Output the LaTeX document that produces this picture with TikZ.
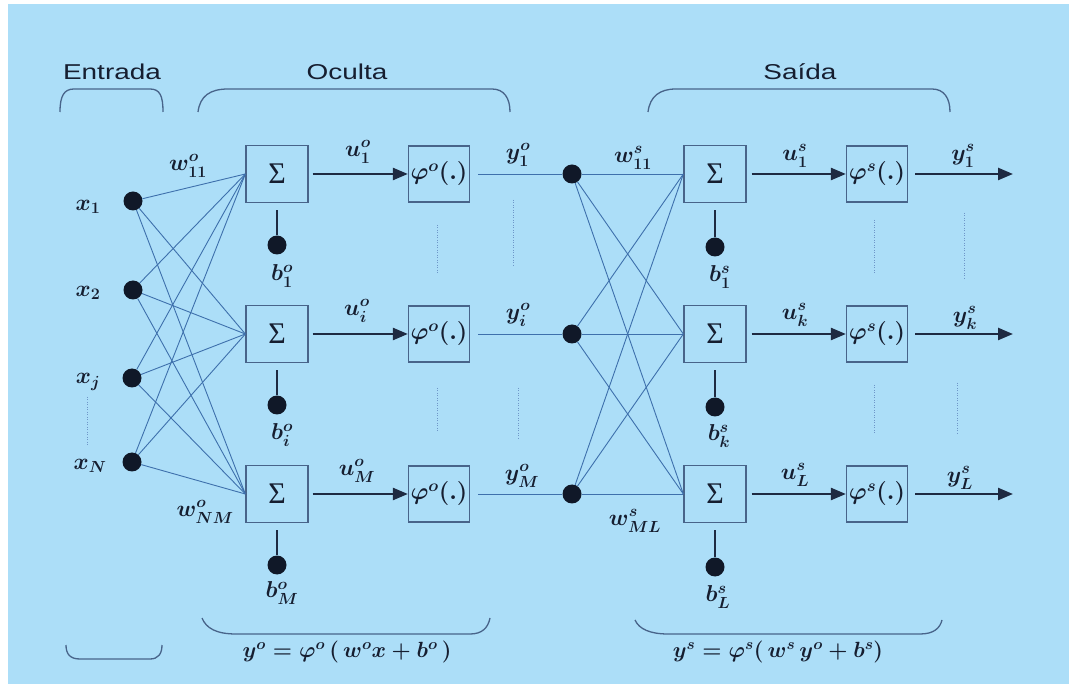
\RequirePackage{fix-cm}
\documentclass[tikz,border=0pt]{standalone}
\usepackage{fontspec}
\usepackage{amsmath}
\newfontfamily\hdrfont[FakeStretch=1.3]{Liberation Sans}
\newfontfamily\sigfont{Liberation Serif}
\usetikzlibrary{arrows.meta}
\definecolor{bgblue}{RGB}{172,222,248}
\definecolor{wirecol}{RGB}{62,112,172}
\definecolor{boxcol}{RGB}{72,100,138}
\definecolor{inkcol}{RGB}{22,30,48}
\definecolor{arrcol}{RGB}{30,42,66}
\definecolor{dotcol}{RGB}{16,24,40}
\definecolor{dotlinecol}{RGB}{110,150,200}
\tikzset{
 wire/.style={draw=wirecol, line width=0.9pt},
 sumbox/.style={draw=boxcol, line width=1.3pt, minimum width=62pt, minimum height=57pt, inner sep=0pt, font=\sigfont\fontsize{30}{32}\selectfont, text=inkcol},
 phibox/.style={draw=boxcol, line width=1.3pt, minimum width=61pt, minimum height=56pt, inner sep=0pt, font=\fontsize{24}{28}\selectfont\boldmath, text=inkcol},
 neuron/.style={circle, fill=dotcol, inner sep=0pt, minimum size=19pt},
 lbl/.style={font=\fontsize{23}{27}\selectfont\boldmath, text=inkcol, inner sep=0pt},
 hdr/.style={font=\hdrfont\fontsize{21.5}{26}\selectfont, text=inkcol, inner sep=0pt},
 arr/.style={draw=arrcol, line width=2.4pt, -{Triangle[length=15pt,width=12pt]}},
 biasline/.style={draw=arrcol, line width=1.3pt},
 dotv/.style={draw=dotlinecol, line width=0.7pt, dash pattern=on 1pt off 1.5pt},
 bracket/.style={draw=boxcol, line width=1.3pt},
 formula/.style={font=\fontsize{22}{26}\selectfont\boldmath, text=inkcol, inner sep=0pt}
}
\begin{document}
\begin{tikzpicture}[x=1pt,y=-1pt]
\fill[white] (0,0) rectangle (1069,684);
\fill[bgblue] (8,4) rectangle (1069,684);
\useasboundingbox (0,0) rectangle (1069,684);

% headers
\node[hdr] (hE) at (112,72) {Entrada};
\node[hdr] (hO) at (347,72) {Oculta};
\node[hdr] (hS) at (800,72) {Saída};

% top brackets
\draw[bracket] (60,112) .. controls (60,96) and (64,89) .. (74,89) -- (150,89) .. controls (160,89) and (163,96) .. (163,112);
\draw[bracket] (198,112) .. controls (200,96) and (210,89) .. (228,89) -- (492,89) .. controls (504,89) and (510,98) .. (510,112);
\draw[bracket] (648,112) .. controls (650,96) and (660,89) .. (676,89) -- (932,89) .. controls (944,89) and (950,98) .. (950,112);
% bottom brackets
\draw[bracket] (66,645) .. controls (66,654) and (70,659) .. (80,659) -- (150,659) .. controls (158,659) and (162,654) .. (162,645);
\draw[bracket] (202,618) .. controls (206,628) and (216,634) .. (236,634) -- (470,634) .. controls (482,634) and (488,628) .. (490,618);
\draw[bracket] (635,620) .. controls (639,629) and (650,634) .. (668,634) -- (920,634) .. controls (934,634) and (940,628) .. (942,620);

% formulas
\node[formula] (f1) at (347,652) {$y^{o}=\varphi^{o}\,(\,w^{o}x+b^{o}\,)$};
\node[formula] (f2) at (778,652) {$y^{s}=\varphi^{s}(\,w^{s}\,y^{o}+b^{s})$};

% input layer
\node[neuron] (I1) at (133,201) {};
\node[neuron] (I2) at (133,290) {};
\node[neuron] (I3) at (132,378) {};
\node[neuron] (I4) at (132,462) {};
\node[lbl] (lx1) at (88,207) {$x_{1}$};
\node[lbl] (lx2) at (88,293) {$x_{2}$};
\node[lbl] (lx3) at (88,382) {$x_{j}$};
\node[lbl] (lx4) at (90,466) {$x_{N}$};
\coordinate (dA) at (87,397);
\coordinate (dB) at (87,445);
\draw[dotv] (dA) -- (dB);

% layers
\foreach \r/\y in {1/174,2/334,3/494}{
  \node[sumbox] (H\r) at (277,\y) {Σ};
  \node[phibox] (P\r) at (439,\y) {$\varphi^{o}(.)$};
  \node[neuron] (BH\r) at (277,\y+71) {};
  \node[neuron] (Y\r) at (572,\y) {};
  \node[sumbox] (O\r) at (715,\y) {Σ};
  \node[phibox] (Q\r) at (877,\y) {$\varphi^{s}(.)$};
  \node[neuron] (BO\r) at (715,\y+73) {};
  \coordinate (E\r) at (1013,\y);
}
\foreach \i in {1,...,4}{\foreach \j in {1,2,3}{\draw[wire] (I\i) -- (H\j.west);}}
\foreach \i in {1,2,3}{\foreach \j in {1,2,3}{\draw[wire] (Y\i) -- (O\j.west);}}
\foreach \r in {1,2,3}{
  \draw[biasline] ([yshift=-7pt]H\r.south) -- (BH\r);
  \draw[biasline] ([yshift=-7pt]O\r.south) -- (BO\r);
  \draw[arr] ([xshift=4pt]H\r.east) -- (P\r.west);
  \draw[arr] ([xshift=5pt]O\r.east) -- (Q\r.west);
  \draw[wire] ([xshift=8pt]P\r.east) -- (Y\r);
  \draw[arr] ([xshift=7pt]Q\r.east) -- (E\r);
}

% labels hidden
\node[lbl] (lw11) at (188,166) {$w^{o}_{11}$};
\node[lbl] (lwNM) at (205,512) {$w^{o}_{NM}$};
\node[lbl] (lb1) at (282,276) {$b^{o}_{1}$};
\node[lbl] (lb2) at (282,435) {$b^{o}_{i}$};
\node[lbl] (lb3) at (282,593) {$b^{o}_{M}$};
\node[lbl] (lu1) at (358,152) {$u^{o}_{1}$};
\node[lbl] (lu2) at (357,311) {$u^{o}_{i}$};
\node[lbl] (lu3) at (357,471) {$u^{o}_{M}$};
\node[lbl] (ly1) at (518,155) {$y^{o}_{1}$};
\node[lbl] (ly2) at (518,315) {$y^{o}_{i}$};
\node[lbl] (ly3) at (522,476) {$y^{o}_{M}$};

% labels output
\node[lbl] (lws11) at (633,158) {$w^{s}_{11}$};
\node[lbl] (lwsML) at (635,521) {$w^{s}_{ML}$};
\node[lbl] (lbs1) at (720,277) {$b^{s}_{1}$};
\node[lbl] (lbs2) at (719,436) {$b^{s}_{k}$};
\node[lbl] (lbs3) at (718,597) {$b^{s}_{L}$};
\node[lbl] (lus1) at (795,156) {$u^{s}_{1}$};
\node[lbl] (lus2) at (795,315) {$u^{s}_{k}$};
\node[lbl] (lus3) at (795,475) {$u^{s}_{L}$};
\node[lbl] (lys1) at (963,156) {$y^{s}_{1}$};
\node[lbl] (lys2) at (965,318) {$y^{s}_{k}$};
\node[lbl] (lys3) at (960,478) {$y^{s}_{L}$};

% dotted continuation marks
\foreach \n/\x/\a/\b in {a/437/225/273, b/437/388/433, c/513/200/267, d/518/388/440, e/874/220/275, f/964/213/280, g/874/385/435, h/957/383/435}{
  \coordinate (t\n) at (\x,\a);
  \coordinate (u\n) at (\x,\b);
  \draw[dotv] (t\n) -- (u\n);
}
\end{tikzpicture}
\end{document}
